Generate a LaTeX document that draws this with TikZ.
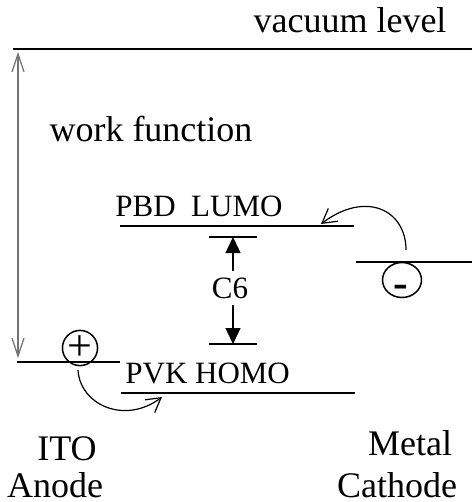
\documentclass[tikz,border=0pt]{standalone}
\usepackage{fontspec}
\setmainfont{Liberation Serif}
\usetikzlibrary{positioning, arrows.meta, shapes.geometric}

\begin{document}
\begin{tikzpicture}[
      x=0.5pt, y=-0.5pt,
      every node/.style={font=\fontsize{18}{20}\selectfont, inner sep=0pt},
      lbl/.style={font=\fontsize{15.5}{18}\selectfont},
      level/.style={line width=0.75pt},
      charge/.style={draw, ellipse, line width=0.75pt, inner sep=0pt},
      hop/.style={-{Straight Barb[length=7pt, width=8pt]}, line width=0.6pt},
      gap/.style={-{Triangle[length=8pt, width=7.5pt]}, line width=0.75pt},
    ]
    \useasboundingbox (0,0) rectangle (472,502);

    % energy levels
    \coordinate (vacL) at (13,49);   \coordinate (vacR) at (472,49);
    \coordinate (itoL) at (17,362);  \coordinate (itoR) at (120,362);
    \coordinate (lumoL) at (120,226); \coordinate (lumoR) at (354,226);
    \coordinate (homoL) at (121,393); \coordinate (homoR) at (355,393);
    \coordinate (metL) at (356,262); \coordinate (metR) at (472,262);
    \coordinate (barTL) at (209,237); \coordinate (barTR) at (257,237);
    \coordinate (barBL) at (209,344); \coordinate (barBR) at (257,344);

    \draw[line width=1.25pt] (vacL) -- (vacR);
    \draw[level] (itoL) -- (itoR);
    \draw[level] (lumoL) -- (lumoR);
    \draw[level] (homoL) -- (homoR);
    \draw[level] (metL) -- (metR);
    \draw[level] (barTL) -- (barTR);
    \draw[level] (barBL) -- (barBR);

    % labels
    \node[anchor=base] (vac) at (350,33) {vacuum level};
    \node[anchor=base] (wf) at (151,142) {work function};
    \node[lbl, anchor=base west] (lumo) at (115,216) {PBD~~LUMO};
    \node[lbl, anchor=base west] (homo) at (125,383) {PVK HOMO};
    \node[lbl, anchor=base, inner sep=3pt] (c6) at (230,298) {C6};
    \node[anchor=base] (ito) at (67,460) {ITO};
    \node[anchor=base] (anode) at (55,497) {Anode};
    \node[anchor=base] (metal) at (410,455) {Metal};
    \node[anchor=base] (cathode) at (397,497) {Cathode};

    % work function
    \coordinate (wfT) at (18,52);
    \coordinate (wfB) at (18,358);
    \draw[black!55, line width=0.6pt,
      {Straight Barb[length=9pt, width=6pt]}-{Straight Barb[length=9pt, width=6pt]}]
      (wfT) -- (wfB);

    % gap
    \draw[gap] (c6.north -| barTL) ++(24,0) coordinate (gapT0) (gapT0) -- (233,237);
    \draw[gap] (c6.south -| barBL) ++(24,0) coordinate (gapB0) (gapB0) -- (233,344);

    % charges
    \node[charge, font=\fontsize{22}{22}\selectfont] (hole) at (80,348) {+};
    \node[charge, minimum width=19.5pt, minimum height=17.5pt] (elec) at (402,280) {};
    \node[font=\bfseries\fontsize{22}{22}\selectfont] (minus) at (401,291) {-};

    % injection
    \coordinate (eStart) at (406,250);
    \coordinate (eEnd) at (321,224);
    \draw[hop] (eStart) .. controls (406,210) and (366,190) .. (eEnd);
    \coordinate (hStart) at (78,370);
    \coordinate (hEnd) at (162,397);
    \draw[hop] (hStart) .. controls (80,405) and (125,425) .. (hEnd);
  \end{tikzpicture}
\end{document}
